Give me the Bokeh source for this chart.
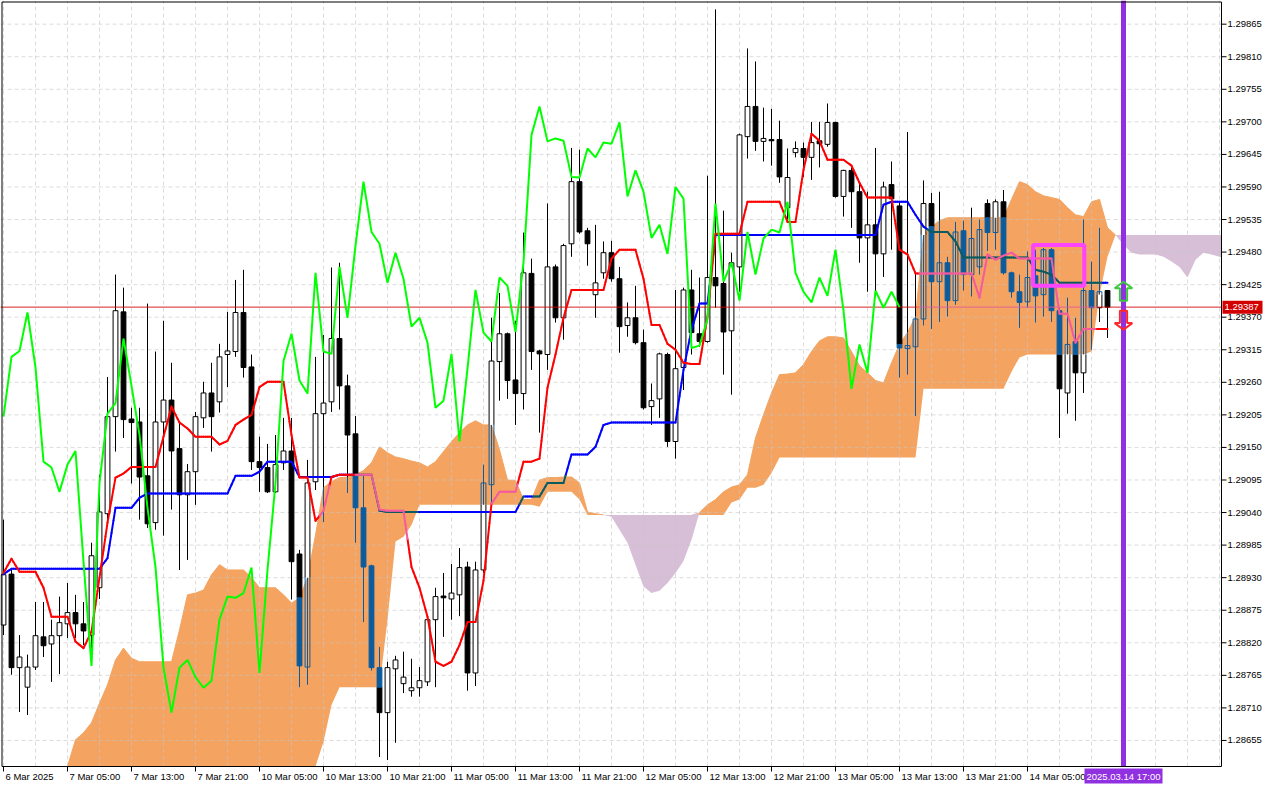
import numpy as np
from bokeh.plotting import figure
from bokeh.models import Range1d
from bokeh.embed import file_html
from bokeh.resources import INLINE
from bokeh.core.properties import value

# ---------------- data (H1 bars, index 0 = 6 Mar 21:00) ----------------
label_bars = [0, 8, 16, 24, 32, 40, 48, 56, 64, 72, 80, 88, 96, 104, 112, 120, 128]
time_labels = ["6 Mar 2025", "7 Mar 05:00", "7 Mar 13:00", "7 Mar 21:00", "10 Mar 05:00",
               "10 Mar 13:00", "10 Mar 21:00", "11 Mar 05:00", "11 Mar 13:00", "11 Mar 21:00",
               "12 Mar 05:00", "12 Mar 13:00", "12 Mar 21:00", "13 Mar 05:00", "13 Mar 13:00",
               "13 Mar 21:00", "14 Mar 05:00"]
price_ticks = [1.28655, 1.28710, 1.28765, 1.28820, 1.28875, 1.28930, 1.28985, 1.29040,
               1.29095, 1.29150, 1.29205, 1.29260, 1.29315, 1.29370, 1.29425, 1.29480,
               1.29535, 1.29590, 1.29645, 1.29700, 1.29755, 1.29810, 1.29865]

opens = [1.28850, 1.28936, 1.28778, 1.28745, 1.28779, 1.28830, 1.28818, 1.28832, 1.28852, 1.28871,
         1.28852, 1.28833, 1.28913, 1.29038, 1.29202, 1.29379, 1.29198, 1.29193, 1.29102, 1.29023,
         1.29193, 1.29230, 1.29148, 1.29070, 1.29109, 1.29200, 1.29242, 1.29227, 1.29307, 1.29312,
         1.29378, 1.29286, 1.29126, 1.29116, 1.29075, 1.29124, 1.29144, 1.28970, 1.28779, 1.29092,
         1.29207, 1.29227, 1.29334, 1.29254, 1.29173, 1.29048, 1.28950, 1.28778, 1.28702, 1.28776,
         1.28751, 1.28739, 1.28744, 1.28754, 1.28859, 1.28899, 1.28894, 1.28901, 1.28948, 1.28769,
         1.28943, 1.29087, 1.29295, 1.29342, 1.29264, 1.29241, 1.29444, 1.29313, 1.29307, 1.29455,
         1.29369, 1.29494, 1.29599, 1.29516, 1.29408, 1.29445, 1.29479, 1.29435, 1.29356, 1.29369,
         1.29327, 1.29219, 1.29232, 1.29307, 1.29160, 1.29285, 1.29416, 1.29342, 1.29329, 1.29437,
         1.29427, 1.29347, 1.29455, 1.29675, 1.29726, 1.29667, 1.29670, 1.29670, 1.29555, 1.29648,
         1.29655, 1.29640, 1.29668, 1.29662, 1.29699, 1.29574, 1.29618, 1.29582, 1.29504, 1.29526,
         1.29477, 1.29594, 1.29558, 1.29317, 1.29320, 1.29367, 1.29562, 1.29430, 1.29462, 1.29398,
         1.29516, 1.29442, 1.29455, 1.29562, 1.29513, 1.29565, 1.29445, 1.29413, 1.29396, 1.29440,
         1.29408, 1.29484, 1.29381, 1.29242, 1.29329, 1.29276, 1.29415, 1.29386, 1.29415]
highs = [1.29028, 1.28943, 1.28833, 1.28800, 1.28889, 1.28889, 1.28859, 1.28898, 1.28921, 1.28901,
         1.28889, 1.28989, 1.29104, 1.29269, 1.29442, 1.29420, 1.29217, 1.29217, 1.29393, 1.29312,
         1.29364, 1.29293, 1.29193, 1.29122, 1.29210, 1.29261, 1.29293, 1.29325, 1.29379, 1.29433,
         1.29450, 1.29307, 1.29168, 1.29156, 1.29171, 1.29200, 1.29200, 1.28977, 1.29129, 1.29303,
         1.29340, 1.29454, 1.29462, 1.29273, 1.29203, 1.29104, 1.28952, 1.28813, 1.28788, 1.28798,
         1.28805, 1.28793, 1.28779, 1.28867, 1.28913, 1.28938, 1.28953, 1.28980, 1.28957, 1.28957,
         1.29121, 1.29369, 1.29411, 1.29344, 1.29364, 1.29513, 1.29469, 1.29315, 1.29562, 1.29459,
         1.29494, 1.29656, 1.29653, 1.29521, 1.29526, 1.29498, 1.29499, 1.29455, 1.29395, 1.29423,
         1.29349, 1.29258, 1.29310, 1.29310, 1.29416, 1.29420, 1.29450, 1.29437, 1.29609, 1.29890,
         1.29550, 1.29479, 1.29680, 1.29824, 1.29802, 1.29724, 1.29722, 1.29702, 1.29655, 1.29667,
         1.29665, 1.29700, 1.29700, 1.29731, 1.29700, 1.29619, 1.29623, 1.29599, 1.29582, 1.29656,
         1.29599, 1.29633, 1.29565, 1.29683, 1.29447, 1.29601, 1.29580, 1.29582, 1.29472, 1.29531,
         1.29533, 1.29555, 1.29535, 1.29569, 1.29569, 1.29585, 1.29447, 1.29442, 1.29481, 1.29484,
         1.29487, 1.29487, 1.29386, 1.29403, 1.29369, 1.29535, 1.29464, 1.29521, 1.29415]
lows = [1.28833, 1.28766, 1.28703, 1.28698, 1.28774, 1.28796, 1.28754, 1.28767, 1.28828, 1.28828,
        1.28816, 1.28793, 1.28894, 1.29024, 1.29143, 1.29166, 1.29089, 1.29028, 1.29014, 1.29011,
        1.29001, 1.29045, 1.28943, 1.28960, 1.29053, 1.29183, 1.29143, 1.29209, 1.29252, 1.29303,
        1.29268, 1.29112, 1.29075, 1.29073, 1.29073, 1.29112, 1.28893, 1.28745, 1.28749, 1.29078,
        1.29024, 1.29210, 1.29214, 1.29073, 1.28989, 1.28855, 1.28773, 1.28627, 1.28622, 1.28651,
        1.28735, 1.28729, 1.28729, 1.28747, 1.28745, 1.28830, 1.28859, 1.28865, 1.28739, 1.28747,
        1.28938, 1.29050, 1.29229, 1.29232, 1.29188, 1.29214, 1.29281, 1.29175, 1.29281, 1.29361,
        1.29332, 1.29472, 1.29511, 1.29457, 1.29369, 1.29435, 1.29430, 1.29310, 1.29337, 1.29324,
        1.29214, 1.29188, 1.29200, 1.29151, 1.29131, 1.29247, 1.29307, 1.29320, 1.29327, 1.29386,
        1.29273, 1.29239, 1.29413, 1.29638, 1.29651, 1.29633, 1.29626, 1.29597, 1.29535, 1.29640,
        1.29607, 1.29602, 1.29623, 1.29658, 1.29572, 1.29540, 1.29521, 1.29462, 1.29413, 1.29413,
        1.29438, 1.29484, 1.29268, 1.29273, 1.29203, 1.29356, 1.29350, 1.29362, 1.29371, 1.29391,
        1.29415, 1.29405, 1.29442, 1.29482, 1.29484, 1.29442, 1.29403, 1.29352, 1.29386, 1.29361,
        1.29371, 1.29362, 1.29166, 1.29207, 1.29195, 1.29242, 1.29315, 1.29362, 1.29335]
closes = [1.28935, 1.28778, 1.28796, 1.28779, 1.28832, 1.28815, 1.28832, 1.28854, 1.28871, 1.28852,
          1.28840, 1.28967, 1.29041, 1.29202, 1.29381, 1.29197, 1.29192, 1.29100, 1.29021, 1.29193,
          1.29230, 1.29144, 1.29070, 1.29109, 1.29202, 1.29242, 1.29202, 1.29303, 1.29313, 1.29378,
          1.29285, 1.29126, 1.29116, 1.29075, 1.29121, 1.29144, 1.28957, 1.28781, 1.29090, 1.29207,
          1.29225, 1.29334, 1.29254, 1.29171, 1.29048, 1.28948, 1.28778, 1.28702, 1.28778, 1.28791,
          1.28762, 1.28744, 1.28756, 1.28859, 1.28898, 1.28896, 1.28904, 1.28947, 1.28769, 1.28943,
          1.29090, 1.29296, 1.29342, 1.29263, 1.29241, 1.29445, 1.29312, 1.29308, 1.29455, 1.29369,
          1.29491, 1.29599, 1.29514, 1.29494, 1.29428, 1.29479, 1.29435, 1.29354, 1.29369, 1.29327,
          1.29217, 1.29229, 1.29308, 1.29160, 1.29283, 1.29416, 1.29344, 1.29329, 1.29437, 1.29423,
          1.29345, 1.29462, 1.29678, 1.29726, 1.29667, 1.29672, 1.29668, 1.29607, 1.29606, 1.29655,
          1.29640, 1.29665, 1.29663, 1.29699, 1.29574, 1.29618, 1.29582, 1.29504, 1.29526, 1.29477,
          1.29590, 1.29570, 1.29318, 1.29322, 1.29367, 1.29562, 1.29430, 1.29462, 1.29398, 1.29514,
          1.29442, 1.29503, 1.29518, 1.29513, 1.29565, 1.29445, 1.29413, 1.29395, 1.29437, 1.29406,
          1.29484, 1.29381, 1.29249, 1.29324, 1.29276, 1.29415, 1.29386, 1.29413, 1.29387]

tenkan = [1.28938, 1.28962, 1.28940, 1.28940, 1.28940, 1.28913, 1.28864, 1.28864, 1.28864, 1.28822,
          1.28811, 1.28839, 1.28930, 1.29023, 1.29099, 1.29106, 1.29117, 1.29117, 1.29117, 1.29117,
          1.29168, 1.29219, 1.29192, 1.29182, 1.29168, 1.29168, 1.29168, 1.29155, 1.29161, 1.29188,
          1.29197, 1.29205, 1.29252, 1.29261, 1.29261, 1.29261, 1.29171, 1.29099, 1.29099, 1.29026,
          1.29043, 1.29100, 1.29104, 1.29104, 1.29104, 1.29104, 1.29104, 1.29045, 1.29043, 1.29043,
          1.29043, 1.28948, 1.28913, 1.28864, 1.28788, 1.28781, 1.28788, 1.28816, 1.28855, 1.28855,
          1.28925, 1.29055, 1.29075, 1.29075, 1.29075, 1.29126, 1.29126, 1.29131, 1.29251, 1.29307,
          1.29369, 1.29416, 1.29416, 1.29416, 1.29416, 1.29416, 1.29469, 1.29484, 1.29484, 1.29484,
          1.29435, 1.29357, 1.29357, 1.29325, 1.29315, 1.29293, 1.29291, 1.29291, 1.29371, 1.29511,
          1.29511, 1.29511, 1.29511, 1.29565, 1.29565, 1.29565, 1.29565, 1.29565, 1.29531, 1.29531,
          1.29619, 1.29680, 1.29668, 1.29636, 1.29636, 1.29636, 1.29626, 1.29597, 1.29572, 1.29572,
          1.29572, 1.29572, 1.29484, 1.29476, 1.29444, 1.29444, 1.29444, 1.29444, 1.29444, 1.29444,
          1.29444, 1.29444, 1.29403, 1.29476, 1.29467, 1.29474, 1.29479, 1.29469, 1.29469, 1.29469,
          1.29469, 1.29469, 1.29376, 1.29376, 1.29327, 1.29350, 1.29350, 1.29350, 1.29350]
kijun = [1.28936, 1.28945, 1.28945, 1.28945, 1.28945, 1.28945, 1.28945, 1.28945, 1.28945, 1.28945,
         1.28945, 1.28945, 1.28945, 1.28963, 1.29048, 1.29048, 1.29048, 1.29065, 1.29072, 1.29072,
         1.29072, 1.29072, 1.29072, 1.29072, 1.29072, 1.29072, 1.29072, 1.29072, 1.29072, 1.29102,
         1.29102, 1.29102, 1.29109, 1.29126, 1.29126, 1.29126, 1.29126, 1.29100, 1.29100, 1.29100,
         1.29100, 1.29100, 1.29104, 1.29104, 1.29104, 1.29104, 1.29104, 1.29043, 1.29041, 1.29041,
         1.29041, 1.29041, 1.29041, 1.29041, 1.29041, 1.29041, 1.29041, 1.29041, 1.29041, 1.29041,
         1.29041, 1.29041, 1.29041, 1.29041, 1.29041, 1.29067, 1.29067, 1.29067, 1.29090, 1.29090,
         1.29090, 1.29138, 1.29138, 1.29138, 1.29151, 1.29188, 1.29192, 1.29192, 1.29192, 1.29192,
         1.29192, 1.29192, 1.29192, 1.29192, 1.29192, 1.29281, 1.29349, 1.29393, 1.29393, 1.29509,
         1.29509, 1.29509, 1.29509, 1.29509, 1.29509, 1.29509, 1.29509, 1.29509, 1.29509, 1.29509,
         1.29509, 1.29509, 1.29509, 1.29509, 1.29509, 1.29509, 1.29509, 1.29509, 1.29509, 1.29509,
         1.29560, 1.29565, 1.29565, 1.29565, 1.29543, 1.29523, 1.29514, 1.29514, 1.29514, 1.29498,
         1.29471, 1.29471, 1.29471, 1.29471, 1.29471, 1.29471, 1.29471, 1.29471, 1.29471, 1.29450,
         1.29447, 1.29442, 1.29428, 1.29428, 1.29428, 1.29428, 1.29428, 1.29428, 1.29428]

# Senkou spans, first value at bar 8 (already shifted 26 bars forward)
CLOUD_START = 8
span_a = [1.28600, 1.28656, 1.28668, 1.28685, 1.28718, 1.28749, 1.28791, 1.28811, 1.28794, 1.28788,
          1.28788, 1.28788, 1.28788, 1.28788, 1.28842, 1.28901, 1.28904, 1.28909, 1.28935, 1.28952,
          1.28943, 1.28943, 1.28943, 1.28930, 1.28913, 1.28913, 1.28913, 1.28901, 1.28887, 1.28896,
          1.28930, 1.29002, 1.29082, 1.29092, 1.29099, 1.29100, 1.29104, 1.29111, 1.29124, 1.29151,
          1.29141, 1.29134, 1.29131, 1.29127, 1.29124, 1.29117, 1.29126, 1.29143, 1.29160, 1.29175,
          1.29188, 1.29195, 1.29188, 1.29188, 1.29146, 1.29095, 1.29094, 1.29062, 1.29062, 1.29095,
          1.29099, 1.29099, 1.29100, 1.29100, 1.29090, 1.29041, 1.29038, 1.29036, 1.29033, 1.29011,
          1.28989, 1.28952, 1.28915, 1.28904, 1.28908, 1.28921, 1.28938, 1.28958, 1.28994, 1.29040,
          1.29053, 1.29062, 1.29075, 1.29083, 1.29087, 1.29104, 1.29166, 1.29205, 1.29242, 1.29273,
          1.29274, 1.29276, 1.29290, 1.29312, 1.29330, 1.29337, 1.29337, 1.29335, 1.29312, 1.29288,
          1.29276, 1.29263, 1.29259, 1.29293, 1.29324, 1.29344, 1.29371, 1.29509, 1.29523, 1.29533,
          1.29538, 1.29538, 1.29538, 1.29538, 1.29538, 1.29538, 1.29538, 1.29538, 1.29569, 1.29599,
          1.29594, 1.29582, 1.29575, 1.29572, 1.29569, 1.29555, 1.29543, 1.29540, 1.29565, 1.29569,
          1.29521, 1.29509, 1.29492, 1.29479, 1.29476, 1.29476, 1.29476, 1.29472, 1.29464, 1.29455,
          1.29437, 1.29467, 1.29479, 1.29476, 1.29472, 1.29467]
span_b = [1.28563, 1.28563, 1.28563, 1.28563, 1.28563, 1.28563, 1.28563, 1.28563, 1.28563, 1.28563,
          1.28563, 1.28563, 1.28563, 1.28563, 1.28563, 1.28563, 1.28563, 1.28563, 1.28563, 1.28563,
          1.28563, 1.28563, 1.28563, 1.28563, 1.28563, 1.28563, 1.28563, 1.28563, 1.28563, 1.28563,
          1.28563, 1.28575, 1.28653, 1.28715, 1.28745, 1.28745, 1.28745, 1.28745, 1.28745, 1.28745,
          1.28859, 1.28991, 1.28999, 1.29019, 1.29053, 1.29053, 1.29053, 1.29053, 1.29053, 1.29053,
          1.29053, 1.29053, 1.29053, 1.29053, 1.29053, 1.29053, 1.29053, 1.29053, 1.29053, 1.29050,
          1.29075, 1.29075, 1.29075, 1.29075, 1.29062, 1.29036, 1.29036, 1.29036, 1.29036, 1.29036,
          1.29036, 1.29036, 1.29036, 1.29036, 1.29036, 1.29036, 1.29036, 1.29036, 1.29036, 1.29036,
          1.29036, 1.29036, 1.29036, 1.29057, 1.29062, 1.29082, 1.29082, 1.29087, 1.29107, 1.29133,
          1.29133, 1.29133, 1.29133, 1.29133, 1.29133, 1.29133, 1.29133, 1.29133, 1.29133, 1.29133,
          1.29133, 1.29133, 1.29133, 1.29133, 1.29133, 1.29133, 1.29133, 1.29249, 1.29249, 1.29249,
          1.29249, 1.29249, 1.29249, 1.29249, 1.29249, 1.29249, 1.29249, 1.29249, 1.29278, 1.29302,
          1.29307, 1.29307, 1.29307, 1.29307, 1.29307, 1.29307, 1.29307, 1.29307, 1.29312, 1.29408,
          1.29472, 1.29509, 1.29509, 1.29509, 1.29509, 1.29509, 1.29509, 1.29509, 1.29509, 1.29509,
          1.29509, 1.29509, 1.29509, 1.29509, 1.29509, 1.29509]

current_price = 1.29387
cursor_bar = 140
cursor_text = "2025.03.14 17:00"
box_bars = (128.7, 135.1)
box_prices = (1.29423, 1.29492)
signal_up = (1.29398, 1.29430)     # base, tip
signal_down = (1.29381, 1.29349)   # base, tip

# ---------------- styles / layout ----------------
FONT = value("Liberation Sans")
FS = value("9.5px")
CANDLE, CANDLE_IN = "#000000", "#0B5B9F"
TENKAN, TENKAN_IN = "#FF0000", "#F45B9F"
KIJUN, KIJUN_IN = "#0000FF", "#0B5B60"
CHIKOU = "#00FF00"
PRICE, PRICE_IN = "#D40000", "#DF5B9F"
ORANGE, THISTLE = "#F4A460", "#D8BFD8"
CURSOR = "#9030E0"
GRID = "#C4C4C4"

W, H = 1264, 784                 # whole canvas (the chart frame covers it)
PX_BAR = 8.0                     # pixels per bar
X0 = -0.375                      # left edge of canvas (bars)
XR = X0 + W / PX_BAR             # right edge of canvas
X1 = 152.25                      # right edge of price pane
Y1 = 1.29905                     # top of canvas (price)
Y0 = 1.28611                     # bottom of price pane
PANE_H = 766
ppy = PANE_H / (Y1 - Y0)
YB = Y1 - H / ppy                # bottom of canvas
dx = 1.0 / PX_BAR                # one pixel in bar units
dy = 1.0 / ppy                   # one pixel in price units

p = figure(frame_width=W, frame_height=H, x_range=Range1d(X0, XR), y_range=Range1d(YB, Y1),
           x_axis_type=None, y_axis_type=None,
           output_backend="svg", toolbar_location=None,
           min_border_left=0, min_border_top=0, min_border_right=0, min_border_bottom=0,
           background_fill_color="white", border_fill_color="white")
p.outline_line_color = None

# ---------------- helpers ----------------
n = len(closes)
o = np.array(opens); h = np.array(highs); l = np.array(lows); c = np.array(closes)
A = np.array(span_a); B = np.array(span_b)
cloud_x = np.arange(CLOUD_START, CLOUD_START + len(A))
c_low = np.minimum(A, B)
c_high = np.maximum(A, B)


def cloud_at(x):
    if x < cloud_x[0] or x > cloud_x[-1]:
        return None
    return float(np.interp(x, cloud_x, c_low)), float(np.interp(x, cloud_x, c_high))


def split(a, b, bnd):
    a, b = min(a, b), max(a, b)
    if bnd is None:
        return [(a, b, False)]
    lo, hi = bnd
    res = []
    if a < lo:
        res.append((a, min(b, lo), False))
    if b > hi:
        res.append((max(a, hi), b, False))
    ia, ib = max(a, lo), min(b, hi)
    if ib > ia:
        res.append((ia, ib, True))
    return res


def inside(y, bnd):
    return bnd is not None and bnd[0] <= y <= bnd[1]


# ---------------- cloud (clipped to the price pane) ----------------
keep = cloud_x <= X1
cxv = np.append(cloud_x[keep], X1)
Av = np.clip(np.append(A[keep], np.interp(X1, cloud_x, A)), Y0, Y1)
Bv = np.clip(np.append(B[keep], np.interp(X1, cloud_x, B)), Y0, Y1)
r1 = p.varea(x=cxv, y1=Bv, y2=np.maximum(Av, Bv), fill_color=ORANGE)
r2 = p.varea(x=cxv, y1=Av, y2=np.maximum(Av, Bv), fill_color=THISTLE)
r3 = p.line(cxv, np.where(Av >= Bv, Av, np.nan), line_color=ORANGE, line_width=1)
for r in (r1, r2, r3):
    r.level = "image"

# ---------------- grid (drawn over the cloud, under the candles) ----------------
vg = [b for b in range(0, 153, 4) if b <= X1]
g1 = p.segment(x0=vg, y0=Y0, x1=vg, y1=Y1, line_color=GRID, line_alpha=0.6,
               line_dash="4 3", line_width=1)
g2 = p.segment(x0=X0, y0=price_ticks, x1=X1, y1=price_ticks, line_color=GRID, line_alpha=0.6,
               line_dash="4 3", line_width=1)
for r in (g1, g2):
    r.level = "underlay"

# ---------------- candles ----------------
hw = 0.3
wick = {True: ([], [], []), False: ([], [], [])}
bear = {True: ([], [], []), False: ([], [], [])}
bull_fill = ([], [], [])
edge = {True: ([], [], [], []), False: ([], [], [], [])}
for i in range(n):
    bnd = cloud_at(i)
    for a, b, ins in split(l[i], h[i], bnd):
        wick[ins][0].append(i); wick[ins][1].append(a); wick[ins][2].append(b)
    if c[i] < o[i]:
        for a, b, ins in split(c[i], o[i], bnd):
            bear[ins][0].append(i); bear[ins][1].append(a); bear[ins][2].append(b)
    else:
        for a, b, ins in split(o[i], c[i], bnd):
            if not ins:
                bull_fill[0].append(i); bull_fill[1].append(a); bull_fill[2].append(b)
            for xe in (i - hw, i + hw):
                edge[ins][0].append(xe); edge[ins][1].append(a)
                edge[ins][2].append(xe); edge[ins][3].append(b)
        for yv in (o[i], c[i]):
            ins = inside(yv, bnd)
            edge[ins][0].append(i - hw); edge[ins][1].append(yv)
            edge[ins][2].append(i + hw); edge[ins][3].append(yv)

for ins, col in ((False, CANDLE), (True, CANDLE_IN)):
    xs, ya, yb = wick[ins]
    p.segment(x0=xs, y0=ya, x1=xs, y1=yb, line_color=col, line_width=1)
bx = np.array(bull_fill[0], dtype=float)
p.quad(left=bx - hw, right=bx + hw, bottom=bull_fill[1], top=bull_fill[2],
       fill_color="white", line_alpha=0)
for ins, col in ((False, CANDLE), (True, CANDLE_IN)):
    xs = np.array(bear[ins][0], dtype=float)
    p.quad(left=xs - hw, right=xs + hw, bottom=bear[ins][1], top=bear[ins][2],
           fill_color=col, line_color=col, line_width=1)
    e = edge[ins]
    p.segment(x0=e[0], y0=e[1], x1=e[2], y1=e[3], line_color=col, line_width=1)

# ---------------- current price line ----------------
step = 0.125
xs_p = np.arange(X0, X1, step)
runs = {True: ([], []), False: ([], [])}
for xa in xs_p:
    ins = inside(current_price, cloud_at(xa + step / 2))
    runs[ins][0].append(xa); runs[ins][1].append(min(xa + step, X1))
for ins, col in ((False, PRICE), (True, PRICE_IN)):
    p.segment(x0=runs[ins][0], y0=current_price, x1=runs[ins][1], y1=current_price,
              line_color=col, line_width=1)


# ---------------- tenkan / kijun ----------------
def split_line(vals, col_out, col_in, width=2):
    vals = np.asarray(vals)
    seg = {True: ([], [], [], []), False: ([], [], [], [])}
    sub = 4
    for i in range(len(vals) - 1):
        for k in range(sub):
            xa = i + k / sub
            xb = i + (k + 1) / sub
            ya = vals[i] + (vals[i + 1] - vals[i]) * k / sub
            yb = vals[i] + (vals[i + 1] - vals[i]) * (k + 1) / sub
            ins = inside((ya + yb) / 2, cloud_at((xa + xb) / 2))
            s = seg[ins]
            s[0].append(xa); s[1].append(ya); s[2].append(xb); s[3].append(yb)
    for ins, col in ((False, col_out), (True, col_in)):
        s = seg[ins]
        p.segment(x0=s[0], y0=s[1], x1=s[2], y1=s[3], line_color=col,
                  line_width=width, line_cap="round")


split_line(kijun, KIJUN, KIJUN_IN)
split_line(tenkan, TENKAN, TENKAN_IN)

# chikou span: close plotted 26 bars back
p.line(np.arange(n - 26), c[26:], line_color=CHIKOU, line_width=2)

# ---------------- cursor line, box, signals ----------------
p.segment(x0=[cursor_bar], y0=[Y0], x1=[cursor_bar], y1=[Y1], line_color=CURSOR, line_width=5)
p.quad(left=[box_bars[0]], right=[box_bars[1]], bottom=[box_prices[0]], top=[box_prices[1]],
       fill_alpha=0, line_color="#FF44FF", line_width=4)

ahw, asw = 1.1, 0.45
hh = 0.00011


def block_arrow(base, tip, col):
    d = 1 if tip > base else -1
    neck = tip - d * hh
    xs = [cursor_bar, cursor_bar + ahw, cursor_bar + asw, cursor_bar + asw,
          cursor_bar - asw, cursor_bar - asw, cursor_bar - ahw]
    ys = [tip, neck, neck, base, base, neck, neck]
    p.patch(xs, ys, fill_alpha=0, line_color=col, line_width=2)


block_arrow(signal_up[0], signal_up[1], "#3CC83C")
block_arrow(signal_down[0], signal_down[1], "#FF2828")

# ---------------- pane border, axes, tick labels ----------------
p.quad(left=[X0 + 1.5 * dx], right=[X1], bottom=[Y0], top=[Y1 - 1.5 * dy],
       fill_alpha=0, line_color="black", line_width=1)
# time axis
p.segment(x0=label_bars, y0=Y0, x1=label_bars, y1=Y0 - 5 * dy, line_color="black", line_width=1)
p.text(x=label_bars, y=Y0 - 4 * dy, text=time_labels, x_offset=2, text_align="left",
       text_baseline="top", text_font=FONT, text_font_size=FS, text_color="black")
# price axis
p.segment(x0=X1, y0=price_ticks, x1=X1 + 5 * dx, y1=price_ticks, line_color="black", line_width=1)
p.text(x=X1 + 6 * dx, y=price_ticks, text=[f"{t:.5f}" for t in price_ticks],
       text_align="left", text_baseline="middle", text_font=FONT, text_font_size=FS,
       text_color="black")

# current price tag
p.quad(left=[X1 + 1 * dx], right=[X1 + 41 * dx], bottom=[current_price - 6.5 * dy],
       top=[current_price + 6.5 * dy], fill_color=PRICE, line_alpha=0)
p.text(x=[X1 + 3 * dx], y=[current_price], text=[f"{current_price:.5f}"], text_align="left",
       text_baseline="middle", text_font=FONT, text_font_size=FS, text_color="white")

# cursor time tag
p.quad(left=[cursor_bar - 39 * dx], right=[cursor_bar + 39 * dx], bottom=[Y0 - 17 * dy],
       top=[Y0 - 2 * dy], fill_color=CURSOR, line_alpha=0)
p.text(x=[cursor_bar], y=[Y0 - 9.5 * dy], text=[cursor_text], text_align="center",
       text_baseline="middle", text_font=FONT, text_font_size=FS, text_color="white")

open("out.html", "w").write(file_html(p, INLINE))
